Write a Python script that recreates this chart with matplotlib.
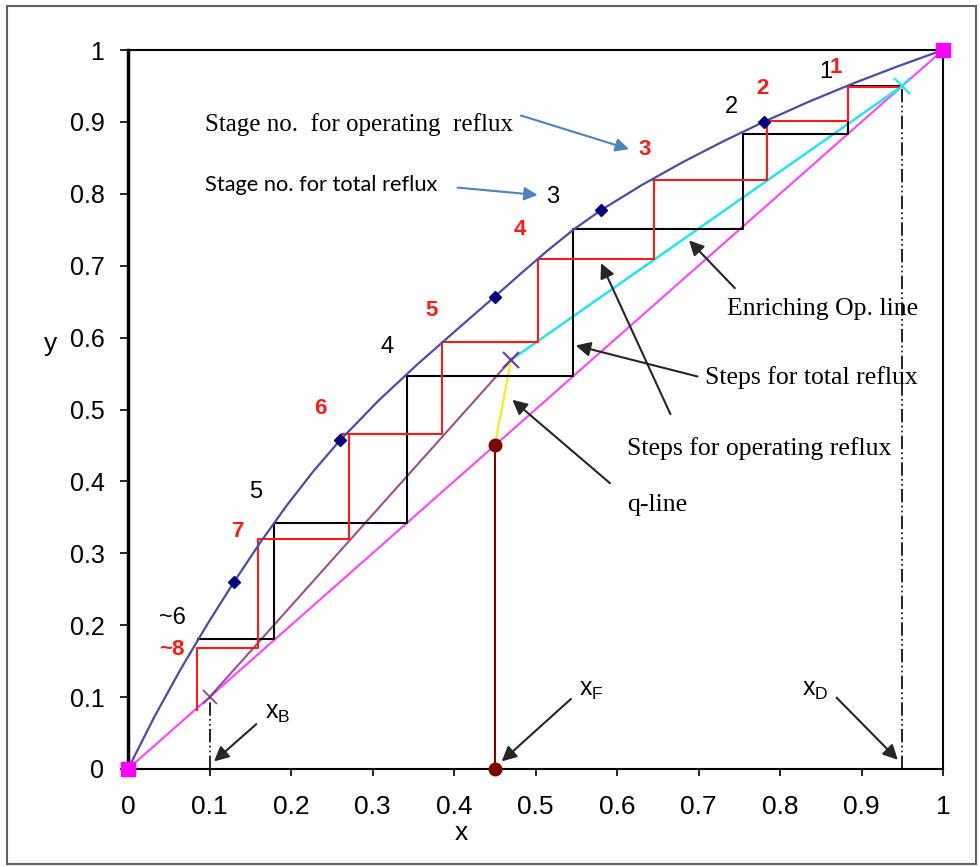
import matplotlib
matplotlib.use("Agg")
import matplotlib.pyplot as plt
from matplotlib.patches import Rectangle

plt.rcParams['mathtext.default'] = 'regular'

# ---- data ----
eq_x = [0, 0.0325, 0.065, 0.0975, 0.13, 0.1625, 0.195, 0.2275, 0.26, 0.3075, 0.355,
        0.4025, 0.45, 0.4825, 0.515, 0.5475, 0.58, 0.63, 0.68, 0.73, 0.78, 0.835,
        0.89, 0.945, 1.0]
eq_y = [0, 0.0729, 0.1396, 0.2016, 0.26, 0.3154, 0.3669, 0.4142, 0.457, 0.5125, 0.5627,
        0.6101, 0.657, 0.6895, 0.7213, 0.7509, 0.777, 0.8119, 0.8436, 0.8728, 0.90,
        0.9279, 0.9536, 0.9775, 1.0]
eq_pts_x = [0.13, 0.26, 0.45, 0.58, 0.78]
eq_pts_y = [0.26, 0.457, 0.657, 0.777, 0.90]

diag_x = [0, 1]
diag_y = [0, 1]

enrich_x = [0.47, 0.95]
enrich_y = [0.569, 0.95]
strip_x = [0.10, 0.47]
strip_y = [0.10, 0.569]
q_x = [0.45, 0.47]
q_y = [0.45, 0.569]
feed_x = [0.45, 0.45]
feed_y = [0.0, 0.45]

xB, xF, xD = 0.10, 0.45, 0.95

total_x = [0.95, 0.883, 0.883, 0.755, 0.755, 0.546, 0.546, 0.342, 0.342, 0.179, 0.179, 0.086]
total_y = [0.95, 0.95, 0.883, 0.883, 0.751, 0.751, 0.547, 0.547, 0.342, 0.342, 0.181, 0.181]

oper_x = [0.95, 0.883, 0.883, 0.779, 0.784, 0.784, 0.644, 0.645, 0.645, 0.503, 0.503,
          0.385, 0.385, 0.263, 0.271, 0.271, 0.16, 0.16, 0.085, 0.085]
oper_y = [0.948, 0.948, 0.901, 0.901, 0.901, 0.819, 0.819, 0.819, 0.709, 0.709, 0.594,
          0.594, 0.466, 0.466, 0.466, 0.32, 0.32, 0.168, 0.168, 0.082]

red_labels = ["1", "2", "3", "4", "5", "6", "7", "~8"]
red_lx = [0.869, 0.779, 0.634, 0.481, 0.373, 0.236, 0.135, 0.054]
red_ly = [0.976, 0.947, 0.861, 0.750, 0.638, 0.502, 0.330, 0.166]

blk_labels = ["1", "2", "3", "4", "5", "~6"]
blk_lx = [0.856, 0.740, 0.521, 0.318, 0.157, 0.054]
blk_ly = [0.969, 0.921, 0.796, 0.587, 0.385, 0.210]

ticks = [0, 0.1, 0.2, 0.3, 0.4, 0.5, 0.6, 0.7, 0.8, 0.9, 1]
tick_labels = ["0", "0.1", "0.2", "0.3", "0.4", "0.5", "0.6", "0.7", "0.8", "0.9", "1"]

# ---- figure ----
fig = plt.figure(figsize=(9.8, 8.67), dpi=100)
ax = fig.add_axes([128/980, (867-769)/867, 815/980, 719/867])

fig.patches.append(Rectangle((7/980, 3/867), 969/980, 858/867, transform=fig.transFigure,
                             fill=False, edgecolor='#606060', lw=1.5))

ax.plot(diag_x, diag_y, color='#ff44ff', lw=1.5, zorder=2)
ax.plot(strip_x, strip_y, color='#9a4f9a', lw=1.5, zorder=2)
ax.plot(enrich_x, enrich_y, color='#22e5ee', lw=1.8, zorder=2)
ax.plot(q_x, q_y, color='#f2f200', lw=1.5, zorder=2)
ax.plot(feed_x, feed_y, color='#800000', lw=1.5, zorder=2)
ax.plot(feed_x, feed_y, 'o', color='#800000', ms=9, zorder=5, clip_on=False)

ax.plot([xB, xB], [0, xB], color='black', lw=1.2, dashes=(8, 2, 1, 2, 1, 2), zorder=2)
ax.plot([xD, xD], [0, xD], color='black', lw=1.2, dashes=(8, 2, 1, 2, 1, 2), zorder=2)

ax.plot(total_x, total_y, color='black', lw=1.5, zorder=3)
ax.plot(oper_x, oper_y, color='#ff1a1a', lw=1.5, zorder=3)

ax.plot(eq_x, eq_y, color='#4b4ba8', lw=1.6, zorder=4)
ax.plot(eq_pts_x, eq_pts_y, 'D', color='#000080', ms=6, zorder=5)

ax.plot([xB], [xB], 'x', color='#8a3a9a', ms=10, mew=1.2, zorder=5)
ax.plot([0.47], [0.569], 'x', color='#6a3aa0', ms=12, mew=1.5, zorder=5)
ax.plot([xD], [xD], 'x', color='#22e5ee', ms=12, mew=1.5, zorder=5)
ax.plot([0, 1], [0, 1], 's', color='#ff00ff', ms=10, zorder=6, clip_on=False)

for t, x, y in zip(red_labels, red_lx, red_ly):
    ax.text(x, y, t, color='#ff1a1a', fontsize=16, fontweight='bold',
            family='Liberation Sans', ha='center', va='center', zorder=7)
for t, x, y in zip(blk_labels, blk_lx, blk_ly):
    ax.text(x, y, t, color='black', fontsize=17, family='Liberation Sans',
            ha='center', va='center', zorder=7)

serif = 'Liberation Serif'
ax.text(0.0945, 0.896, "Stage no.  for operating  reflux", fontsize=18, family=serif,
        ha='left', va='center')
ax.annotate("", xy=(0.618, 0.861), xytext=(0.479, 0.910),
            arrowprops=dict(arrowstyle='-|>', color='#4f81bd', lw=1.5, mutation_scale=20))
ax.text(0.0945, 0.812, "Stage no. for total reflux", fontsize=15.7, family='Lato',
        ha='left', va='center')
ax.annotate("", xy=(0.506, 0.798), xytext=(0.401, 0.809),
            arrowprops=dict(arrowstyle='-|>', color='#4f81bd', lw=1.5, mutation_scale=20))

arr = dict(arrowstyle='-|>', color='#262626', lw=1.5, mutation_scale=22)
ax.text(0.735, 0.640, "Enriching Op. line", fontsize=18.5, family=serif, ha='left', va='center')
ax.annotate("", xy=(0.686, 0.738), xytext=(0.747, 0.666), arrowprops=arr)
ax.text(0.708, 0.545, "Steps for total reflux", fontsize=18.5, family=serif, ha='left', va='center')
ax.annotate("", xy=(0.546, 0.590), xytext=(0.702, 0.545), arrowprops=arr)
ax.text(0.612, 0.446, "Steps for operating reflux", fontsize=18.5, family=serif, ha='left', va='center')
ax.annotate("", xy=(0.579, 0.707), xytext=(0.667, 0.490), arrowprops=arr)
ax.text(0.612, 0.367, "q-line", fontsize=18.5, family=serif, ha='left', va='center')
ax.annotate("", xy=(0.469, 0.516), xytext=(0.594, 0.395), arrowprops=arr)

ax.text(0.168, 0.078, "x$_B$", fontsize=18, family='Liberation Sans', ha='left', va='center')
ax.annotate("", xy=(0.103, 0.008), xytext=(0.160, 0.065), arrowprops=arr)
ax.text(0.553, 0.110, "x$_F$", fontsize=18, family='Liberation Sans', ha='left', va='center')
ax.annotate("", xy=(0.456, 0.008), xytext=(0.546, 0.100), arrowprops=arr)
ax.text(0.827, 0.110, "x$_D$", fontsize=18, family='Liberation Sans', ha='left', va='center')
ax.annotate("", xy=(0.947, 0.010), xytext=(0.867, 0.102), arrowprops=arr)

ax.set_xlim(0, 1)
ax.set_ylim(0, 1)
ax.set_xticks(ticks)
ax.set_yticks(ticks)
ax.set_xticklabels(tick_labels, family=['Liberation Sans Narrow', 'Liberation Sans'], fontsize=19)
ax.set_yticklabels(tick_labels, family='Liberation Sans', fontsize=18)
ax.tick_params(axis='x', direction='out', length=5, width=1.2, pad=14)
ax.tick_params(axis='y', direction='out', length=6, width=1.2, pad=11)
for s in ax.spines.values():
    s.set_linewidth(1.5)
    s.set_color('black')
ax.spines['left'].set_linewidth(2.5)

ax.set_xlabel("x", fontsize=19, family='Liberation Sans', labelpad=2)
ax.set_ylabel("y", fontsize=19, family='Liberation Sans', rotation=0, labelpad=2)
ax.yaxis.set_label_coords(-0.095, 0.575)
ax.xaxis.set_label_coords(0.409, -0.072)

fig.savefig("out.png", dpi=100)
